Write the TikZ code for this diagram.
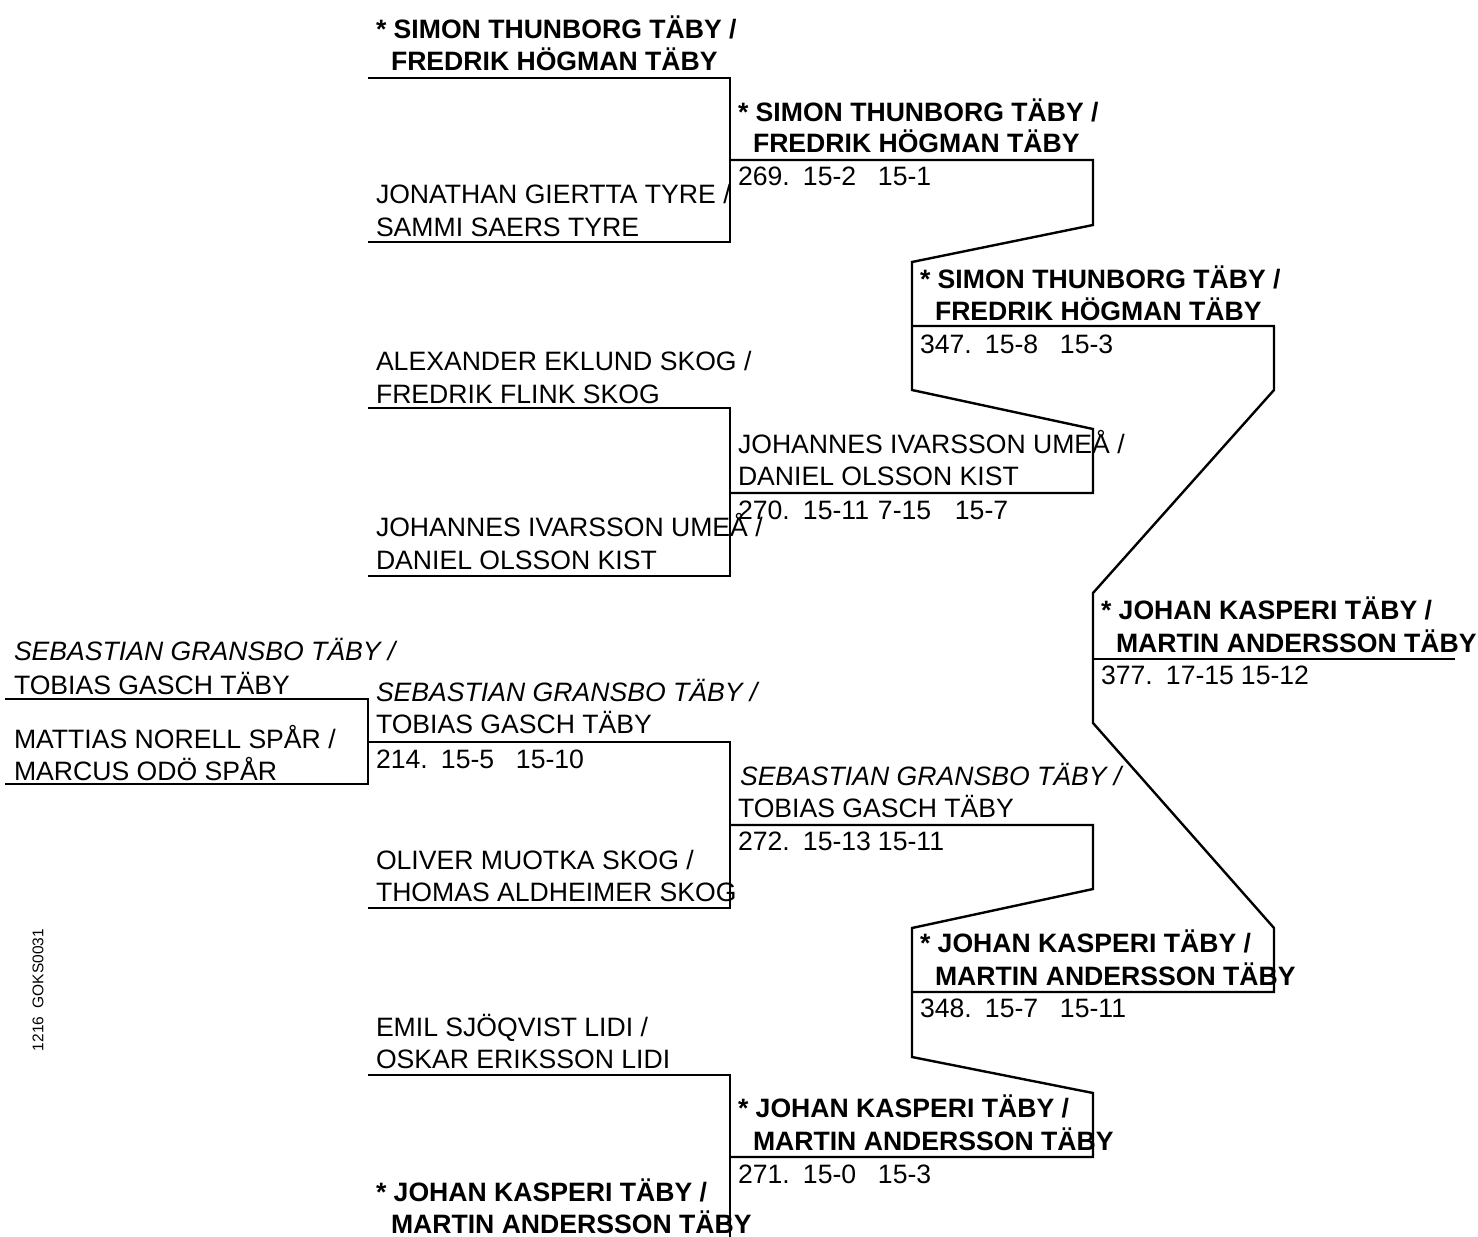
\documentclass[tikz,border=0pt]{standalone}
\usepackage{fontspec}
\setmainfont{Liberation Sans}
\newcommand\scoreline[4]{\makebox[65pt][l]{#1}\makebox[75pt][l]{#2}\makebox[77pt][l]{#3}#4}
\begin{document}
\begin{tikzpicture}[x=1pt,y=-1pt,
  txt/.style={anchor=base west,inner sep=0pt,outer sep=0pt,font=\fontsize{26.6}{32}\selectfont},
  win/.style={txt,font=\fontsize{26.6}{32}\selectfont\bfseries},
  ita/.style={txt,font=\fontsize{26.6}{32}\selectfont\itshape},
  br/.style={line width=2.8pt,line join=miter,line cap=butt},
  brt/.style={line width=2.4pt,line join=miter,line cap=butt}]
\useasboundingbox (0,0) rectangle (1478,1237);

% ---------- coordinates ----------
% pre-round
\coordinate (pa) at (5,699);   \coordinate (pb) at (368,699);
\coordinate (pc) at (368,784); \coordinate (pd) at (5,784);
% round 1
\coordinate (a0) at (368,78);  \coordinate (a1) at (730,78);
\coordinate (a2) at (730,242); \coordinate (a3) at (368,242);
\coordinate (b0) at (368,408); \coordinate (b1) at (730,408);
\coordinate (b2) at (730,576); \coordinate (b3) at (368,576);
\coordinate (c0) at (368,742); \coordinate (c1) at (730,742);
\coordinate (c2) at (730,908); \coordinate (c3) at (368,908);
\coordinate (d0) at (368,1075); \coordinate (d1) at (730,1075);
\coordinate (d2) at (730,1240);
% round 2
\coordinate (e0) at (730,160);  \coordinate (e1) at (1093,160);
\coordinate (e2) at (1093,225); \coordinate (e3) at (912,262);
\coordinate (e4) at (912,390);  \coordinate (e5) at (1093,429);
\coordinate (e6) at (1093,493); \coordinate (e7) at (730,493);
\coordinate (f0) at (730,825);  \coordinate (f1) at (1093,825);
\coordinate (f2) at (1093,889); \coordinate (f3) at (912,928);
\coordinate (f4) at (912,1057); \coordinate (f5) at (1093,1093);
\coordinate (f6) at (1093,1157); \coordinate (f7) at (730,1157);
% round 3
\coordinate (g0) at (912,326);  \coordinate (g1) at (1274,326);
\coordinate (g2) at (1274,390); \coordinate (g3) at (1093,593);
\coordinate (g4) at (1093,723); \coordinate (g5) at (1274,928);
\coordinate (g6) at (1274,992); \coordinate (g7) at (912,992);
% final
\coordinate (h0) at (1093,659); \coordinate (h1) at (1455,659);

% ---------- bracket lines ----------
\draw[br] (pa) -- (pb) -- (pc) -- (pd);
\draw[br] (a0) -- (a1) -- (a2) -- (a3);
\draw[br] (b0) -- (b1) -- (b2) -- (b3);
\draw[br] (c0) -- (c1) -- (c2) -- (c3);
\draw[br] (d0) -- (d1) -- (d2);
\draw[brt] (e0) -- (e1) -- (e2) -- (e3) -- (e4) -- (e5) -- (e6) -- (e7);
\draw[brt] (f0) -- (f1) -- (f2) -- (f3) -- (f4) -- (f5) -- (f6) -- (f7);
\draw[brt] (g0) -- (g1) -- (g2) -- (g3) -- (g4) -- (g5) -- (g6) -- (g7);
\draw[brt] (h0) -- (h1);

% ---------- pre-round texts ----------
\node[ita] (t0a) at (14,660) {SEBASTIAN GRANSBO TÄBY /};
\node[txt] (t0b) at (14,694) {TOBIAS GASCH TÄBY};
\node[txt] (t0c) at (14,748) {MATTIAS NORELL SPÅR /};
\node[txt] (t0d) at (14,780) {MARCUS ODÖ SPÅR};

% ---------- round 1 texts ----------
\node[win] (t1a) at (376,38)  {* SIMON THUNBORG TÄBY /};
\node[win] (t1b) at (391,70)  {FREDRIK HÖGMAN TÄBY};
\node[txt] (t1c) at (376,203) {JONATHAN GIERTTA TYRE /};
\node[txt] (t1d) at (376,236) {SAMMI SAERS TYRE};
\node[txt] (t1e) at (376,370) {ALEXANDER EKLUND SKOG /};
\node[txt] (t1f) at (376,403) {FREDRIK FLINK SKOG};
\node[txt] (t1g) at (376,536) {JOHANNES IVARSSON UMEÅ /};
\node[txt] (t1h) at (376,569) {DANIEL OLSSON KIST};
\node[ita] (t1i) at (376,701) {SEBASTIAN GRANSBO TÄBY /};
\node[txt] (t1j) at (376,733) {TOBIAS GASCH TÄBY};
\node[txt] (r214) at (376,768) {\scoreline{214.}{15-5}{15-10}{}};
\node[txt] (t1k) at (376,869) {OLIVER MUOTKA SKOG /};
\node[txt] (t1l) at (376,901) {THOMAS ALDHEIMER SKOG};
\node[txt] (t1m) at (376,1036) {EMIL SJÖQVIST LIDI /};
\node[txt] (t1n) at (376,1068) {OSKAR ERIKSSON LIDI};
\node[win] (t1o) at (376,1201) {* JOHAN KASPERI TÄBY /};
\node[win] (t1p) at (391,1233) {MARTIN ANDERSSON TÄBY};

% ---------- round 2 texts ----------
\node[win] (t2a) at (738,121) {* SIMON THUNBORG TÄBY /};
\node[win] (t2b) at (753,152) {FREDRIK HÖGMAN TÄBY};
\node[txt] (r269) at (738,185) {\scoreline{269.}{15-2}{15-1}{}};
\node[txt] (t2c) at (738,453) {JOHANNES IVARSSON UMEÅ /};
\node[txt] (t2d) at (738,485) {DANIEL OLSSON KIST};
\node[txt] (r270) at (738,519) {\scoreline{270.}{15-11}{7-15}{15-7}};
\node[ita] (t2e) at (740,785) {SEBASTIAN GRANSBO TÄBY /};
\node[txt] (t2f) at (738,817) {TOBIAS GASCH TÄBY};
\node[txt] (r272) at (738,850) {\scoreline{272.}{15-13}{15-11}{}};
\node[win] (t2g) at (738,1117) {* JOHAN KASPERI TÄBY /};
\node[win] (t2h) at (753,1150) {MARTIN ANDERSSON TÄBY};
\node[txt] (r271) at (738,1183) {\scoreline{271.}{15-0}{15-3}{}};

% ---------- round 3 texts ----------
\node[win] (t3a) at (920,288) {* SIMON THUNBORG TÄBY /};
\node[win] (t3b) at (935,320) {FREDRIK HÖGMAN TÄBY};
\node[txt] (r347) at (920,353) {\scoreline{347.}{15-8}{15-3}{}};
\node[win] (t3c) at (920,952) {* JOHAN KASPERI TÄBY /};
\node[win] (t3d) at (935,985) {MARTIN ANDERSSON TÄBY};
\node[txt] (r348) at (920,1017) {\scoreline{348.}{15-7}{15-11}{}};

% ---------- final ----------
\node[win] (t4a) at (1101,619) {* JOHAN KASPERI TÄBY /};
\node[win] (t4b) at (1116,652) {MARTIN ANDERSSON TÄBY};
\node[txt] (r377) at (1101,684) {\scoreline{377.}{17-15}{15-12}{}};

% ---------- side label ----------
\node[rotate=90,inner sep=0pt,font=\fontsize{15.5}{18}\selectfont] (side) at (38,990) {1216\ \ GOKS0031};
\end{tikzpicture}
\end{document}
